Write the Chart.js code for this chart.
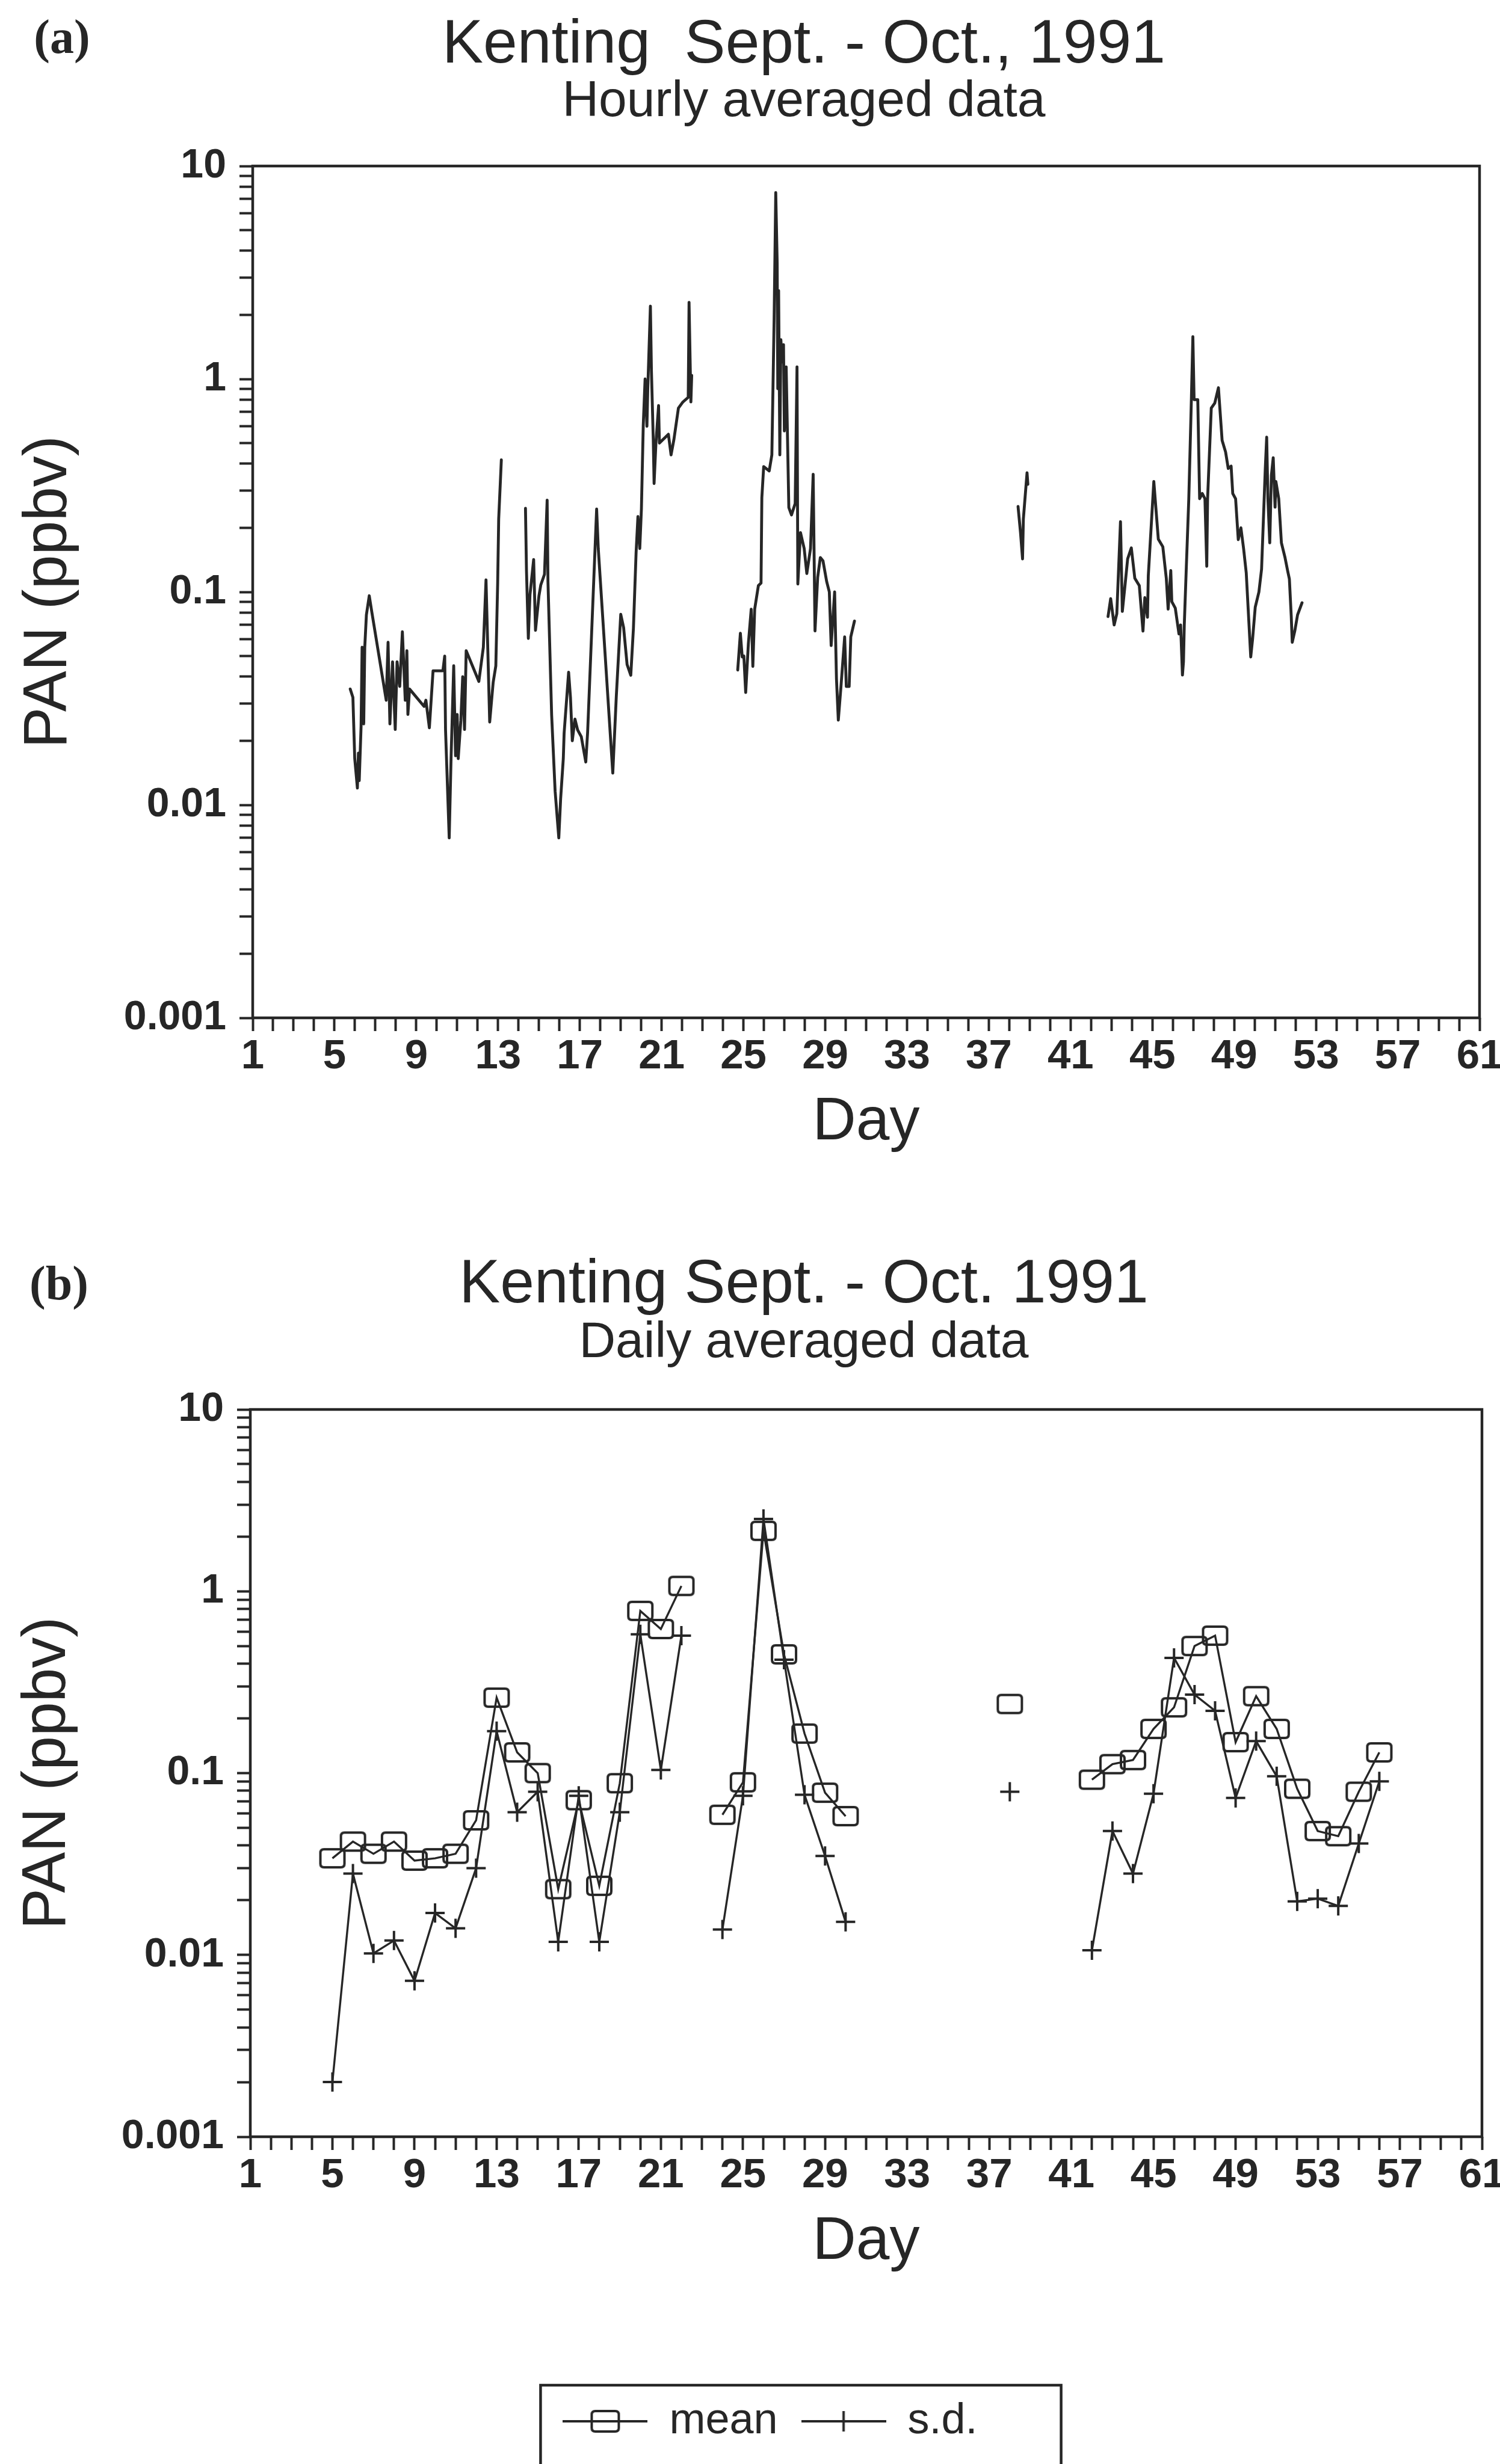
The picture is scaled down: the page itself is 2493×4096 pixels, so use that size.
<!DOCTYPE html>
<html>
<head>
<meta charset="utf-8">
<script src="https://cdn.jsdelivr.net/npm/chart.js@4.4.1/dist/chart.umd.min.js"></script>
<style>
html,body{margin:0;padding:0;background:#fff;overflow:hidden;width:2493px;height:4096px}
canvas{position:absolute;left:0}
#a{top:0}
#b{top:1960px}
</style>
</head>
<body>
<canvas id="a" width="2672" height="1960"></canvas>
<canvas id="b" width="2672" height="2136"></canvas>
<script>
const ink = "#262626";
const sans = '"Liberation Sans", Arial, sans-serif';

// tick labels
const xTickLabels = [1, 5, 9, 13, 17, 21, 25, 29, 33, 37, 41, 45, 49, 53, 57, 61];
const yTickLabels = ["0.001", "0.01", "0.1", "1", "10"];
const yDecades = [0.001, 0.01, 0.1, 1, 10];

// (a) hourly PAN, ppbv - one list of [day, value] per unbroken stretch
const hourly1 = [[5.77,0.035],[5.90,0.032],[5.99,0.0165],[6.12,0.012],[6.17,0.0175],[6.21,0.013],[6.30,0.0234],[6.35,0.055],[6.43,0.024],[6.48,0.055],[6.56,0.078],[6.70,0.096],[6.83,0.080],[7.53,0.031],[7.62,0.058],[7.71,0.024],[7.84,0.047],[7.97,0.0226],[8.06,0.047],[8.19,0.036],[8.32,0.065],[8.46,0.031],[8.54,0.053],[8.59,0.0266],[8.67,0.035],[9.38,0.029],[9.47,0.031],[9.64,0.023],[9.82,0.0426],[10.30,0.0426],[10.39,0.050],[10.43,0.0226],[10.61,0.007],[10.70,0.0165],[10.83,0.045],[10.92,0.017],[11.00,0.0266],[11.05,0.0165],[11.18,0.025],[11.27,0.040],[11.36,0.0226],[11.44,0.053],[12.06,0.038],[12.28,0.055],[12.41,0.114],[12.59,0.0245],[12.76,0.0376],[12.89,0.045],[12.98,0.110],[13.03,0.220],[13.16,0.417]];
const hourly2 = [[14.34,0.247],[14.39,0.125],[14.48,0.0605],[14.56,0.097],[14.74,0.142],[14.83,0.066],[15.00,0.096],[15.09,0.108],[15.27,0.121],[15.40,0.27],[15.44,0.112],[15.62,0.0264],[15.79,0.0116],[15.97,0.007],[16.06,0.0107],[16.19,0.0165],[16.23,0.0217],[16.45,0.042],[16.54,0.032],[16.63,0.020],[16.76,0.0253],[16.89,0.0225],[17.07,0.0209],[17.29,0.0159],[17.38,0.022],[17.82,0.245],[17.90,0.16],[18.52,0.0192],[18.61,0.0141],[18.78,0.032],[19.00,0.0785],[19.14,0.068],[19.31,0.0456],[19.49,0.0406],[19.62,0.0676],[19.75,0.153],[19.84,0.226],[19.93,0.16],[20.01,0.245],[20.10,0.605],[20.19,1.0],[20.28,0.6],[20.32,0.89],[20.45,2.2],[20.50,1.09],[20.59,0.52],[20.63,0.323],[20.72,0.5],[20.85,0.75],[20.89,0.5],[21.07,0.52],[21.33,0.55],[21.46,0.44],[21.60,0.52],[21.82,0.73],[22.04,0.78],[22.30,0.82],[22.34,2.29],[22.43,0.78],[22.47,1.04]];
const hourly3 = [[24.72,0.043],[24.85,0.064],[24.94,0.0495],[25.02,0.05],[25.11,0.0337],[25.24,0.057],[25.38,0.083],[25.46,0.0447],[25.55,0.083],[25.73,0.107],[25.86,0.11],[25.90,0.277],[25.99,0.388],[26.26,0.37],[26.39,0.44],[26.50,1.9],[26.58,7.5],[26.65,3.5],[26.68,0.9],[26.72,2.6],[26.78,0.44],[26.83,1.53],[26.90,1.2],[26.96,1.45],[27.00,0.57],[27.09,1.14],[27.22,0.249],[27.35,0.23],[27.53,0.26],[27.62,1.14],[27.66,0.109],[27.79,0.19],[27.97,0.16],[28.10,0.122],[28.28,0.16],[28.41,0.357],[28.50,0.0656],[28.63,0.117],[28.76,0.145],[28.89,0.14],[29.07,0.112],[29.20,0.1],[29.29,0.056],[29.46,0.1],[29.55,0.039],[29.64,0.025],[29.77,0.036],[29.95,0.0615],[30.03,0.036],[30.17,0.036],[30.25,0.0615],[30.43,0.073]];
const hourly4 = [[38.43,0.252],[38.55,0.19],[38.65,0.143],[38.69,0.22],[38.87,0.363],[38.91,0.32]];
const hourly5 = [[42.83,0.0766],[42.96,0.093],[43.13,0.070],[43.26,0.079],[43.44,0.214],[43.53,0.081],[43.66,0.107],[43.79,0.143],[43.97,0.161],[44.14,0.116],[44.36,0.107],[44.54,0.0655],[44.63,0.094],[44.76,0.076],[44.80,0.119],[45.07,0.33],[45.29,0.177],[45.51,0.163],[45.68,0.116],[45.77,0.083],[45.90,0.126],[45.95,0.09],[46.12,0.084],[46.30,0.0635],[46.38,0.07],[46.47,0.0407],[46.52,0.047],[46.56,0.07],[46.65,0.123],[46.78,0.273],[46.87,0.585],[46.91,0.826],[46.98,1.58],[47.04,0.8],[47.22,0.8],[47.31,0.274],[47.44,0.29],[47.57,0.274],[47.66,0.132],[47.70,0.274],[47.88,0.73],[48.05,0.77],[48.23,0.91],[48.41,0.515],[48.58,0.454],[48.71,0.38],[48.85,0.39],[48.93,0.29],[49.07,0.274],[49.20,0.176],[49.33,0.2],[49.46,0.16],[49.59,0.123],[49.81,0.0495],[49.90,0.06],[50.03,0.0848],[50.21,0.1],[50.34,0.128],[50.52,0.376],[50.59,0.533],[50.65,0.274],[50.74,0.17],[50.82,0.353],[50.91,0.427],[51.00,0.25],[51.04,0.33],[51.18,0.274],[51.31,0.17],[51.48,0.146],[51.62,0.125],[51.70,0.115],[51.79,0.0773],[51.84,0.058],[51.97,0.066],[52.10,0.078],[52.32,0.089]];
const hourly = [hourly1, hourly2, hourly3, hourly4, hourly5];

// (b) daily averages, ppbv (null = no data that day)
const dailyDay = [5,6,7,8,9,10,11,12,13,14, 15,16,17,18,19,20,21,22,23,24, 25,26,27,28,29,30,31,32,33,34, 35,36,37,38,39,40,41,42,43,44, 45,46,47,48,49,50,51,52,53,54, 55,56];
const dailyMean = [0.034,0.042,0.036,0.042,0.033,0.034,0.036,0.055,0.26,0.13, 0.10,0.023,0.071,0.024,0.088,0.78,0.62,1.07,null,0.059, 0.089,2.15,0.45,0.165,0.078,0.058,null,null,null,null, null,null,null,0.24,null,null,null,0.092,0.112,0.118, 0.175,0.23,0.50,0.57,0.148,0.265,0.175,0.082,0.048,0.045, 0.079,0.13];
const dailySd = [0.002,0.028,0.0102,0.012,0.0072,0.017,0.014,0.03,0.17,0.061, 0.079,0.0118,0.075,0.0118,0.061,0.58,0.104,0.57,null,0.0138, 0.075,2.5,0.42,0.076,0.035,0.0152,null,null,null,null, null,null,null,0.079,null,null,null,0.0106,0.048,0.028, 0.077,0.43,0.27,0.22,0.073,0.15,0.096,0.0197,0.0204,0.0186, 0.041,0.09];

Chart.defaults.font.family = sans;
Chart.defaults.color = ink;

// tick positions: every day on x, 1..9 per decade on y
const xTickDays = [];
for (let d = 1; d <= 61; d++) xTickDays.push(d);
const yTickValues = [];
yDecades.forEach(dec => { for (let k = 1; k <= 9; k++) if (dec * k <= 10.0001) yTickValues.push(dec * k); });

function rrect(g, x, y, w, h, r) {
  g.beginPath();
  g.moveTo(x + r, y); g.lineTo(x + w - r, y); g.quadraticCurveTo(x + w, y, x + w, y + r);
  g.lineTo(x + w, y + h - r); g.quadraticCurveTo(x + w, y + h, x + w - r, y + h);
  g.lineTo(x + r, y + h); g.quadraticCurveTo(x, y + h, x, y + h - r);
  g.lineTo(x, y + r); g.quadraticCurveTo(x, y, x + r, y);
  g.closePath(); g.stroke();
}
function icon(w, h, draw) {
  const c = document.createElement("canvas");
  c.width = w; c.height = h;
  const g = c.getContext("2d");
  g.strokeStyle = ink; g.lineWidth = 4;
  draw(g);
  return c;
}
const meanMark = icon(48, 38, g => rrect(g, 4, 4, 40, 30, 6));
const meanKey = icon(141, 42, g => {
  g.beginPath(); g.moveTo(0, 21); g.lineTo(141, 21); g.stroke();
  rrect(g, 48, 4, 45, 34, 6);
});
const sdKey = icon(141, 42, g => {
  g.beginPath(); g.moveTo(0, 21); g.lineTo(141, 21); g.moveTo(70.5, 4); g.lineTo(70.5, 38); g.stroke();
});
const legendIcons = [meanKey, sdKey];

const frame = {
  id: "frame",
  afterDatasetsDraw(chart) {
    const {ctx, chartArea: a} = chart;
    ctx.save();
    ctx.strokeStyle = ink; ctx.lineWidth = 4.5;
    ctx.strokeRect(a.left, a.top, a.right - a.left, a.bottom - a.top);
    ctx.restore();
  }
};
const tag = {
  id: "tag",
  afterDraw(chart, args, opts) {
    const ctx = chart.ctx;
    ctx.save();
    ctx.font = 'bold 80px "Liberation Serif", serif';
    ctx.fillStyle = ink; ctx.textAlign = "center"; ctx.textBaseline = "middle";
    ctx.fillText(opts.text, opts.x, opts.y);
    ctx.restore();
  }
};
// nudge legend items left, then box them
const legendShift = {
  id: "legendShift",
  afterLayout(chart, args, opts) {
    if (chart.legend) { chart.legend.left += opts.dx; chart.legend.right += opts.dx; }
  }
};
const legendBox = {
  id: "legendBox",
  afterDraw(chart) {
    const lg = chart.legend, hb = lg && lg.legendHitBoxes;
    if (!hb || !hb.length) return;
    const l = hb[0].left - 37, r = hb[hb.length - 1].left + hb[hb.length - 1].width + 139;
    const ctx = chart.ctx;
    ctx.save();
    ctx.strokeStyle = ink; ctx.lineWidth = 4.5;
    ctx.strokeRect(l, lg.top + 15, r - l, chart.height);
    ctx.restore();
  }
};

function axes(o) {
  return {
    x: {
      type: "linear", min: 1, max: 61,
      afterBuildTicks: s => { s.ticks = xTickDays.map(v => ({value: v})); },
      afterFit: s => { s.height = o.xh; },
      grid: {drawOnChartArea: false, drawTicks: true, tickLength: 22, tickWidth: 4, tickColor: ink},
      border: {display: false},
      ticks: {autoSkip: false, maxRotation: 0, padding: 8, color: ink,
        font: {size: 69, weight: "bold", lineHeight: 1},
        callback: v => xTickLabels.includes(v) ? String(v) : ""},
      title: {display: true, text: "Day", color: ink, font: {size: 100, lineHeight: 1}, padding: {top: 0, bottom: o.dayPad}}
    },
    y: {
      type: "logarithmic", position: "left", min: 0.001, max: 10,
      afterBuildTicks: s => { s.ticks = yTickValues.map(v => ({value: v})); },
      afterFit: s => { s.width = o.yw; },
      grid: {drawOnChartArea: false, drawTicks: true, tickLength: 22, tickWidth: 4, tickColor: ink},
      border: {display: false},
      ticks: {autoSkip: false, padding: 22, color: ink,
        font: {size: 68, weight: "bold", lineHeight: 1},
        callback: v => {
          const i = yDecades.findIndex(d => Math.abs(v / d - 1) < 1e-6);
          return i >= 0 ? yTickLabels[i] : "";
        }},
      title: {display: true, text: "PAN (ppbv)", color: ink, font: {size: 102, lineHeight: 1}, padding: {top: o.panPad, bottom: 0}}
    },
    yRight: {
      type: "linear", position: "right",
      grid: {display: false}, ticks: {display: false}, border: {display: false},
      afterFit: s => { s.width = o.rw; }
    }
  };
}

const hourlyData = [];
hourly.forEach((seg, i) => {
  if (i > 0) hourlyData.push({x: seg[0][0] - 0.3, y: null});
  seg.forEach(([d, v]) => hourlyData.push({x: d, y: v}));
});

new Chart(document.getElementById("a"), {
  type: "line",
  data: {datasets: [{
    label: "PAN", data: hourlyData, borderColor: ink, borderWidth: 4.8,
    borderJoinStyle: "round", borderCapStyle: "round", pointRadius: 0, fill: false, tension: 0, spanGaps: false
  }]},
  options: {
    responsive: false, animation: false, devicePixelRatio: 1, events: [],
    layout: {padding: {left: 0, right: 0, top: 0, bottom: 44}},
    scales: axes({xh: 224, dayPad: 0, yw: 420, panPad: 31, rw: 213}),
    plugins: {
      legend: {display: false}, tooltip: {enabled: false},
      title: {display: true, text: "Kenting  Sept. - Oct., 1991", color: ink, font: {size: 102, weight: "normal", lineHeight: 1}, padding: {top: 25, bottom: 0}},
      subtitle: {display: true, text: "Hourly averaged data", color: ink, font: {size: 84, lineHeight: 1}, padding: {top: 1, bottom: 64}},
      tag: {text: "(a)", x: 103, y: 67}
    }
  },
  plugins: [frame, tag]
});

new Chart(document.getElementById("b"), {
  type: "line",
  data: {datasets: [
    {label: "mean", data: dailyDay.map((d, i) => ({x: d, y: dailyMean[i]})),
     borderColor: ink, borderWidth: 3.4, pointStyle: meanMark, pointRadius: 20,
     fill: false, tension: 0, spanGaps: false},
    {label: "s.d.", data: dailyDay.map((d, i) => ({x: d, y: dailySd[i]})),
     borderColor: ink, borderWidth: 3.4, pointStyle: "cross", pointRadius: 16,
     pointBorderWidth: 4, pointBorderColor: ink, fill: false, tension: 0, spanGaps: false}
  ]},
  options: {
    responsive: false, animation: false, devicePixelRatio: 1, events: [],
    layout: {padding: {left: 0, right: 0, top: 0, bottom: 35}},
    scales: axes({xh: 398, dayPad: 173, yw: 416, panPad: 29, rw: 209}),
    plugins: {
      tooltip: {enabled: false},
      title: {display: true, text: "Kenting Sept. - Oct. 1991", color: ink, font: {size: 102, weight: "normal", lineHeight: 1}, padding: {top: 126, bottom: 0}},
      subtitle: {display: true, text: "Daily averaged data", color: ink, font: {size: 84, lineHeight: 1}, padding: {top: 3, bottom: 68}},
      legend: {
        position: "bottom", maxHeight: 111,
        labels: {
          usePointStyle: true, pointStyleWidth: 141, padding: 39, color: ink,
          font: {size: 72, lineHeight: 1},
          generateLabels: chart => chart.data.datasets.map((ds, i) => ({
            text: ds.label, pointStyle: legendIcons[i], datasetIndex: i, hidden: false,
            fillStyle: "rgba(0,0,0,0)", strokeStyle: "rgba(0,0,0,0)", lineWidth: 0, fontColor: ink
          }))
        }
      },
      legendShift: {dx: -56},
      tag: {text: "(b)", x: 98, y: 179}
    }
  },
  plugins: [frame, tag, legendShift, legendBox]
});
</script>
</body>
</html>
